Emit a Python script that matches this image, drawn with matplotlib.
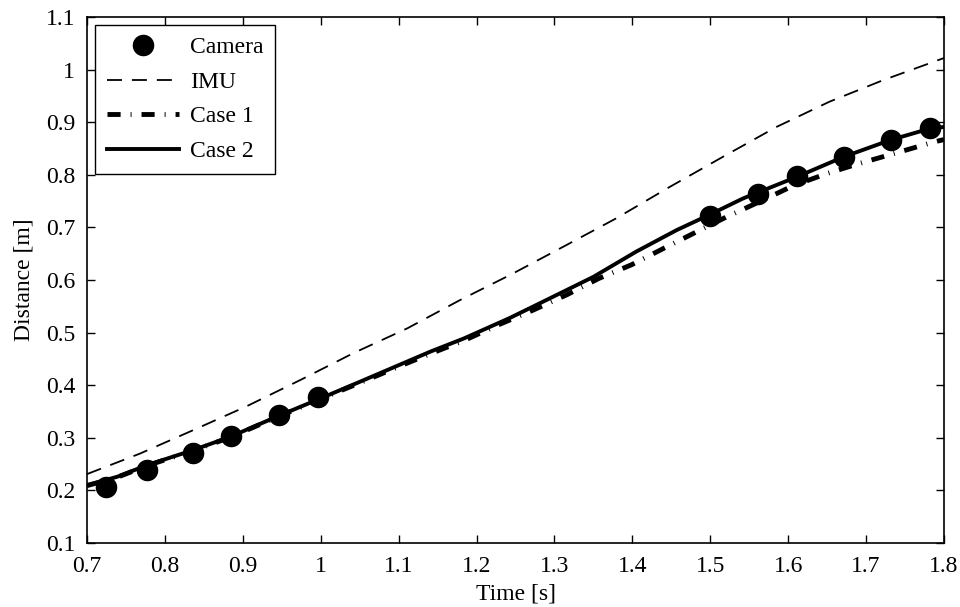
import matplotlib.pyplot as plt
from matplotlib.ticker import FuncFormatter, MultipleLocator

# Data
camera_t = [0.724, 0.777, 0.836, 0.885, 0.946, 0.997, 1.500, 1.561, 1.611, 1.672, 1.732, 1.782]
camera_d = [0.206, 0.238, 0.272, 0.303, 0.343, 0.377, 0.721, 0.763, 0.798, 0.834, 0.866, 0.889]

imu_t = [0.70, 0.768, 0.837, 0.905, 0.974, 1.042, 1.111, 1.179, 1.245, 1.311,
         1.379, 1.448, 1.516, 1.585, 1.653, 1.722, 1.80]
imu_d = [0.231, 0.270, 0.315, 0.360, 0.410, 0.461, 0.508, 0.562, 0.611, 0.663,
         0.717, 0.777, 0.834, 0.891, 0.939, 0.980, 1.022]

case1_t = [0.70, 0.739, 0.777, 0.837, 0.884, 0.948, 1.0, 1.051, 1.111, 1.141, 1.184,
           1.230, 1.273, 1.316, 1.357, 1.399, 1.440, 1.483, 1.521, 1.565, 1.606,
           1.649, 1.690, 1.735, 1.786, 1.80]
case1_d = [0.209, 0.225, 0.247, 0.276, 0.301, 0.342, 0.374, 0.405, 0.442, 0.460, 0.485,
           0.516, 0.543, 0.572, 0.603, 0.629, 0.660, 0.692, 0.720, 0.750, 0.779,
           0.802, 0.821, 0.840, 0.862, 0.867]

case2_t = [0.70, 0.739, 0.777, 0.837, 0.884, 0.948, 1.0, 1.051, 1.111, 1.141, 1.184,
           1.243, 1.298, 1.350, 1.405, 1.457, 1.499, 1.542, 1.611, 1.671, 1.731,
           1.782, 1.80]
case2_d = [0.210, 0.226, 0.248, 0.277, 0.302, 0.343, 0.375, 0.407, 0.445, 0.464, 0.489,
           0.528, 0.568, 0.606, 0.654, 0.695, 0.724, 0.755, 0.796, 0.834, 0.866,
           0.888, 0.891]

plt.rcParams['font.family'] = ['Liberation Serif', 'DejaVu Serif']
plt.rcParams['font.size'] = 17

fig = plt.figure(figsize=(9.6, 6.07), dpi=100)
ax = fig.add_axes([87 / 960, 64 / 607, 857 / 960, 526 / 607])

# --- lines ---
ax.plot(imu_t, imu_d, color='black', lw=1.3, linestyle=(0, (8.3, 5.5)), label='IMU', zorder=2)
ax.plot(case1_t, case1_d, color='black', lw=3.5, linestyle=(0, (2.7, 2.05, 0.2, 2.05)),
        label='Case 1', zorder=3)
ax.plot(case2_t, case2_d, color='black', lw=2.8, label='Case 2', zorder=4)
ax.plot(camera_t, camera_d, 'o', color='black', markersize=14.5, label='Camera', zorder=5)

ax.set_xlim(0.7, 1.8)
ax.set_ylim(0.1, 1.1)
ax.xaxis.set_major_locator(MultipleLocator(0.1))
ax.yaxis.set_major_locator(MultipleLocator(0.1))
fmt = FuncFormatter(lambda v, p: '%g' % round(v, 2))
ax.xaxis.set_major_formatter(fmt)
ax.yaxis.set_major_formatter(fmt)
ax.tick_params(direction='in', length=6, width=1, top=True, right=True)
ax.tick_params(axis='x', pad=9)
ax.tick_params(axis='y', pad=8.5)
for s in ax.spines.values():
    s.set_linewidth(1.2)

ax.set_xlabel('Time [s]', labelpad=5)
ax.set_ylabel('Distance [m]', labelpad=8)

# legend in MATLAB order
h, l = ax.get_legend_handles_labels()
order = [3, 0, 1, 2]
leg = ax.legend([h[i] for i in order], [l[i] for i in order], loc='upper left',
                bbox_to_anchor=(8 / 857, 1 - 8 / 526), borderaxespad=0,
                fancybox=False, edgecolor='black', framealpha=1,
                handlelength=3.05, handletextpad=0.47, labelspacing=0.55,
                borderpad=0.5)
leg.get_frame().set_linewidth(1.0)

plt.savefig('out.png', dpi=100)
